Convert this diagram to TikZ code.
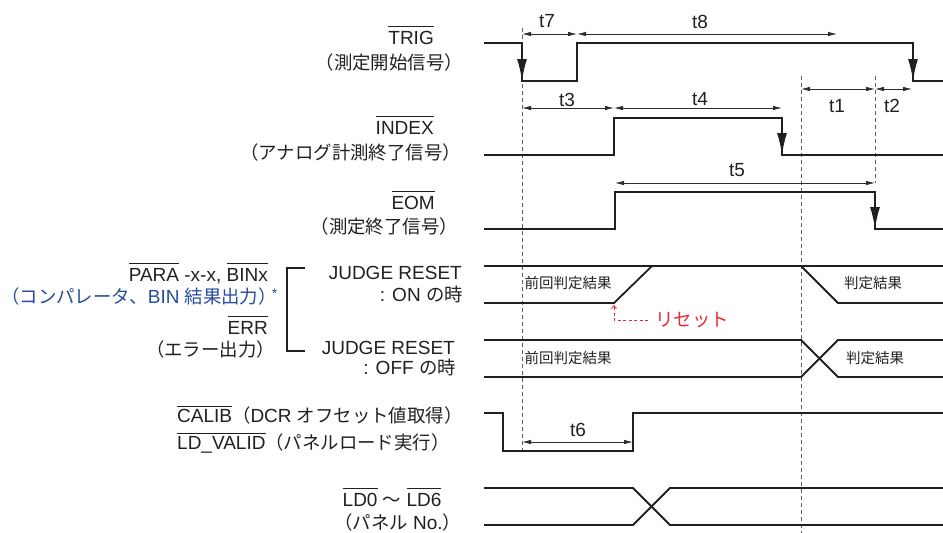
\documentclass[tikz,border=0pt]{standalone}
\usepackage{fontspec}
\setmainfont{Liberation Sans}
\newfontfamily\jp{Noto Sans CJK JP}
\usetikzlibrary{arrows.meta}
\definecolor{wavecol}{RGB}{35,31,32}
\definecolor{dimcol}{RGB}{45,45,45}
\definecolor{guidecol}{RGB}{95,95,95}
\definecolor{cmpblue}{RGB}{40,75,155}
\definecolor{rstred}{RGB}{230,40,50}
\newcommand\ovl[1]{\vbox{\hrule height 0.9pt\kern 4.5pt\hbox{#1}}}
\newcommand\ovlb[1]{\vbox{\hrule height 0.9pt\kern 2.5pt\hbox{#1}}}
\newcommand\jpt{\fontsize{18.4}{20}\selectfont\jp}
\begin{document}
\begin{tikzpicture}[x=1pt,y=-1pt,
  wave/.style={line width=1.8pt, draw=wavecol, line join=miter},
  dimarrow/.style={line width=0.8pt, draw=dimcol, {Latex[length=9pt,width=4.5pt]}-{Latex[length=9pt,width=4.5pt]}},
  guide/.style={draw=guidecol, line width=0.9pt, dash pattern=on 4pt off 3pt},
  bigarr/.style={line width=1.8pt, draw=wavecol, fill=wavecol, -{Latex[length=22pt,width=10pt]}},
  lab/.style={inner sep=0pt, text=wavecol, font=\fontsize{19}{21}\selectfont},
  jlab/.style={inner sep=0pt, text=wavecol, font=\jpt},
  jsm/.style={inner sep=0pt, text=wavecol, font=\fontsize{14.5}{16}\selectfont\jp},
  tlab/.style={inner sep=0pt, text=wavecol, font=\fontsize{19}{21}\selectfont},
]
\useasboundingbox (0,0) rectangle (943,533);

% guide lines
\draw[guide] (522,28) -- (522,452);
\draw[guide] (801,76) -- (801,533);
\draw[guide] (875,76) -- (875,183);

% left labels
\node[lab, anchor=base east] (trig) at (434,44.5) {\ovl{TRIG}};
\node[jlab, anchor=base east] (trigj) at (463,69.5) {（測定開始信号）};
\node[lab, anchor=base east] (index) at (434,134.5) {\ovl{INDEX}};
\node[jlab, anchor=base east] (indexj) at (461,159.5) {（アナログ計測終了信号）};
\node[lab, anchor=base east] (eom) at (435,209.5) {\ovl{EOM}};
\node[jlab, anchor=base east] (eomj) at (458,233.5) {（測定終了信号）};
\node[lab, anchor=base east] (para) at (268,281.5) {\ovl{PARA} -x-x, \ovl{BINx}};
\node[lab, anchor=base west, text=cmpblue] (cmp) at (1,303.5) {{\jpt （コンパレータ、}BIN {\jpt 結果出力）}\kern-5pt\raisebox{5pt}{\fontsize{14}{14}\selectfont *}};
\node[lab, anchor=base east] (err) at (268,334.5) {\ovl{ERR}};
\node[jlab, anchor=base east] (errj) at (275,356.5) {（エラー出力）};
\draw[wave, line width=1.5pt] (305,268) -| (287,351) -- (305,351);
\node[lab, anchor=base east] (jron1) at (462,279.5) {JUDGE RESET};
\node[lab, anchor=base east] (jron2) at (463,301.5) {: ON {\jpt の時}};
\node[lab, anchor=base east] (jroff1) at (455,354.5) {JUDGE RESET};
\node[lab, anchor=base east] (jroff2) at (456,374.5) {: OFF {\jpt の時}};
\node[lab, anchor=base west] (calib) at (177,422.5) {\ovlb{CALIB}{\jpt （}DCR {\jpt オフセット値取得）}};
\node[lab, anchor=base west] (ldv) at (177,449.5) {\ovlb{LD\_VALID}{\jpt （パネルロード実行）}};
\node[lab, anchor=base west] (ld) at (342.5,506.5) {\ovl{LD0} {\jpt ～} \ovl{LD6}};
\node[lab, anchor=base west] (ldj) at (334,529.5) {{\jpt （パネル} No.{\jpt ）}};

% TRIG
\draw[wave] (484,43) -- (522,43) -- (522,81) -- (577,81) -- (577,43) -- (913,43) -- (913,81) -- (943,81);
\draw[bigarr] (522,43) -- (522,81);
\draw[bigarr] (913,43) -- (913,81);
% INDEX
\draw[wave] (484,155) -- (614,155) -- (614,118) -- (782,118) -- (782,155) -- (943,155);
\draw[bigarr] (782,118) -- (782,155);
% EOM
\draw[wave] (484,229) -- (615,229) -- (615,192) -- (875,192) -- (875,229) -- (943,229);
\draw[bigarr] (875,192) -- (875,229);
% JUDGE RESET ON
\draw[wave] (484,266) -- (943,266);
\draw[wave] (484,303) -- (614,303) -- (652,266);
\draw[wave] (801,266) -- (838,303) -- (943,303);
% JUDGE RESET OFF
\draw[wave] (484,340) -- (801,340) -- (838,377) -- (943,377);
\draw[wave] (484,377) -- (801,377) -- (838,340) -- (943,340);
% CALIB / LD_VALID
\draw[wave] (484,413) -- (503,413) -- (503,451) -- (633,451) -- (633,413) -- (943,413);
% LD0-LD6
\draw[wave] (484,488) -- (633,488) -- (670,525) -- (943,525);
\draw[wave] (484,525) -- (633,525) -- (670,488) -- (943,488);

% in-chart labels
\node[jsm] (prev1) at (568,283) {前回判定結果};
\node[jsm] (res1) at (873,283) {判定結果};
\node[jsm] (prev2) at (568,358) {前回判定結果};
\node[jsm] (res2) at (875,358) {判定結果};
\node[jlab, text=rstred, anchor=west] (rst) at (655,320) {リセット};
\draw[draw=rstred, line width=0.8pt, dash pattern=on 3pt off 2.5pt, -{Straight Barb[length=3pt,width=5pt]}] ([xshift=-7pt]rst.west) -| (614,305);

% timing dimensions
\draw[dimarrow] (522,34) -- (577,34);
\draw[dimarrow] (577,34) -- (837,34);
\draw[dimarrow] (522,108) -- (614,108);
\draw[dimarrow] (614,108) -- (782,108);
\draw[dimarrow] (801,89) -- (875,89);
\draw[dimarrow] (875,89) -- (912,89);
\draw[dimarrow] (615,183) -- (875,183);
\draw[dimarrow] (522,442) -- (633,442);
\node[tlab] (t7) at (547,21.5) {t7};
\node[tlab] (t8) at (700,22) {t8};
\node[tlab] (t3) at (567,99.5) {t3};
\node[tlab] (t4) at (700,99.5) {t4};
\node[tlab] (t1) at (837,106) {t1};
\node[tlab] (t2) at (892,106) {t2};
\node[tlab] (t5) at (737,170.5) {t5};
\node[tlab] (t6) at (578,430) {t6};
\end{tikzpicture}
\end{document}
